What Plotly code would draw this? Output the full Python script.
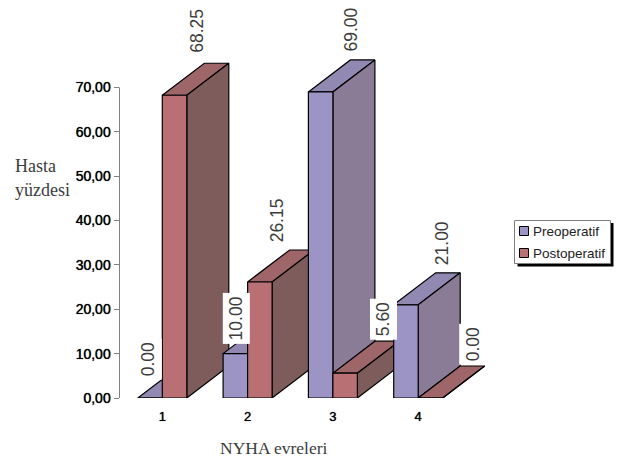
import plotly.graph_objects as go

categories = [1, 2, 3, 4]
preoperatif = [0.00, 10.00, 69.00, 21.00]
postoperatif = [68.25, 26.15, 5.60, 0.00]
y_ticks = [0, 10, 20, 30, 40, 50, 60, 70]
y_tick_labels = ["0,00", "10,00", "20,00", "30,00", "40,00", "50,00", "60,00", "70,00"]

W, H = 617, 461
AX_L, AX_R, AX_B = 119.5, 500.0, 398.0
PX_PER_CAT = 85.3
PX_PER_VAL = 4.436
BAR_W = 24.5 / PX_PER_CAT
DEPTH_X = 42 / PX_PER_CAT
DEPTH_Y = 32 / PX_PER_VAL
CAT1_PX = 162.3

PRE = dict(front="#9D94C6", top="#9289B3", side="#8A7C96")
POST = dict(front="#B97074", top="#9E6668", side="#7F5C5C")
TEXT = "#3C3C3C"
SERIF = "Liberation Serif"
SANS = "Liberation Sans"


def px(x):
    return x / W


def py(y):
    return 1 - y / H


fig = go.Figure()


def poly(xs, ys, color):
    fig.add_trace(go.Scatter(
        x=xs + xs[:1], y=ys + ys[:1], mode="lines", fill="toself", fillcolor=color,
        line=dict(color="black", width=1.2), hoverinfo="skip", showlegend=False,
    ))


def bar3d(x0, value, c):
    x1 = x0 + BAR_W
    poly([x0, x1, x1 + DEPTH_X, x0 + DEPTH_X], [value, value, value + DEPTH_Y, value + DEPTH_Y], c["top"])
    poly([x1, x1 + DEPTH_X, x1 + DEPTH_X, x1], [0, DEPTH_Y, value + DEPTH_Y, value], c["side"])
    poly([x0, x1, x1, x0], [0, 0, value, value], c["front"])


for cat, a, b in zip(categories, preoperatif, postoperatif):
    bar3d(cat - BAR_W, a, PRE)
    bar3d(cat, b, POST)

# Pixel offsets of each value label from the middle of the front of its bar / bar top
pre_dx = [-2.3, 1.0, 30.0, 35.7]
pre_dy = [38.5, 35.6, 62.0, 61.3]
post_dx = [21.6, 17.0, 38.2, 42.0]
post_dy = [64.6, 61.5, 54.3, 54.2]

annotations = []


def value_label(x, v, dx, dy):
    annotations.append(dict(
        x=x, y=v, xref="x", yref="y", xshift=dx, yshift=dy, text=f"{v:.2f}", textangle=-90,
        showarrow=False, xanchor="center", yanchor="middle",
        font=dict(family=SANS, size=17.5, color=TEXT), bgcolor="white", borderpad=3,
    ))


for i, cat in enumerate(categories):
    value_label(cat - BAR_W / 2, preoperatif[i], pre_dx[i], pre_dy[i])
    value_label(cat + BAR_W / 2, postoperatif[i], post_dx[i], post_dy[i])


def text(x, y, s, size, family, anchor="left", color=TEXT):
    annotations.append(dict(
        x=px(x), y=py(y), xref="paper", yref="paper", text=s, showarrow=False,
        xanchor=anchor, yanchor="middle", font=dict(family=family, size=size, color=color),
        borderpad=0, borderwidth=0,
    ))


text(15, 166, "Hasta", 18, SERIF)
text(15, 190, "yüzdesi", 18, SERIF)
text(274, 448, "NYHA evreleri", 17.5, SERIF, "center")
text(532.5, 231, "Preoperatif", 13.5, SANS, color="#222222")
text(532.5, 253, "Postoperatif", 13.5, SANS, color="#222222")

shapes = [
    dict(type="line", xref="paper", yref="y", x0=px(AX_L), x1=px(AX_L), y0=0, y1=70,
         line=dict(color="#808080", width=1)),
    dict(type="rect", xref="paper", yref="paper", x0=px(517.5), x1=px(613.5), y0=py(223), y1=py(266.5),
         fillcolor="black", line=dict(width=0), layer="above"),
    dict(type="rect", xref="paper", yref="paper", x0=px(514.5), x1=px(610.5), y0=py(220.5), y1=py(263.5),
         fillcolor="white", line=dict(color="#808080", width=1), layer="above"),
    dict(type="rect", xref="paper", yref="paper", x0=px(519.5), x1=px(528.5), y0=py(226.5), y1=py(235.5),
         fillcolor=PRE["front"], line=dict(color="black", width=1), layer="above"),
    dict(type="rect", xref="paper", yref="paper", x0=px(519.5), x1=px(528.5), y0=py(248.5), y1=py(257.5),
         fillcolor=POST["front"], line=dict(color="black", width=1), layer="above"),
]

fig.update_layout(
    width=W, height=H, autosize=False, margin=dict(l=0, r=0, t=0, b=0, autoexpand=False),
    paper_bgcolor="white", plot_bgcolor="white", showlegend=False,
    xaxis=dict(
        domain=[AX_L / W, AX_R / W],
        range=[1 - (CAT1_PX - AX_L) / PX_PER_CAT, 1 + (AX_R - CAT1_PX) / PX_PER_CAT],
        tickmode="array", tickvals=categories, ticktext=[str(c) for c in categories],
        ticks="", showgrid=False, zeroline=False, showline=False, ticklabelstandoff=9,
        tickfont=dict(family=SANS, size=13, color="black", shadow="0 0 0.8px #000"),
    ),
    yaxis=dict(
        domain=[(H - AX_B) / H, 1], range=[0, AX_B / PX_PER_VAL],
        tickmode="array", tickvals=y_ticks, ticktext=y_tick_labels,
        ticks="outside", ticklen=5, tickcolor="#808080", tickwidth=1,
        showgrid=False, zeroline=False, showline=False,
        tickfont=dict(family=SANS, size=14, color="black", shadow="0 0 0.8px #000"),
    ),
    shapes=shapes, annotations=annotations,
)

fig.write_html("out.html", post_script="document.body.style.margin='0';", config={"displayModeBar": False})
